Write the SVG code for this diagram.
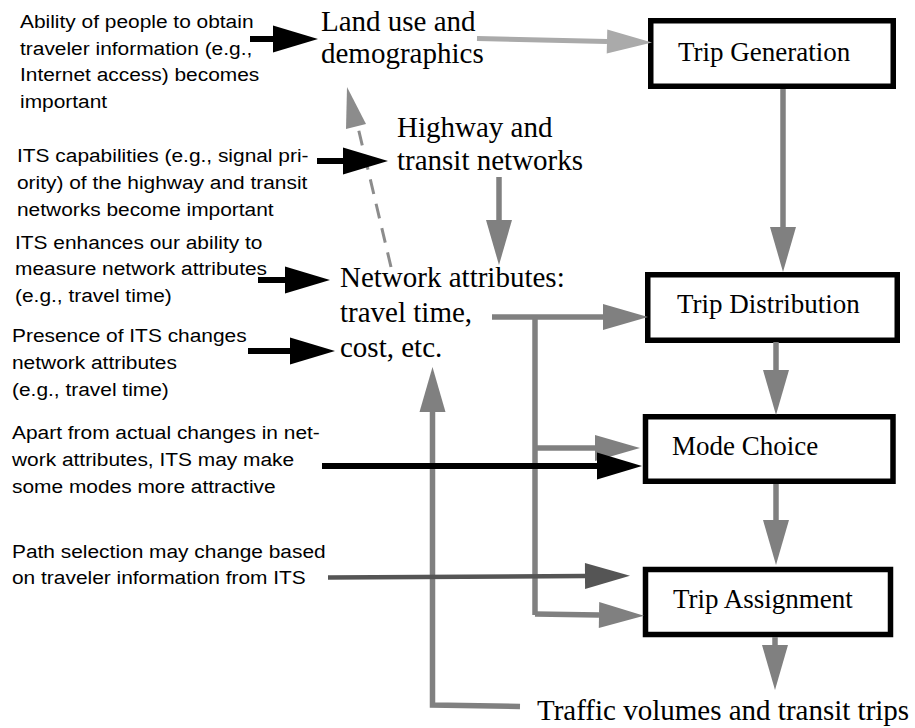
<svg xmlns="http://www.w3.org/2000/svg" width="915" height="728" viewBox="0 0 915 728">
  <defs>
    <style>
      .note { font-family: "Liberation Sans", Arial, sans-serif; font-size: 19px; fill: #000; }
      .label { font-family: "Liberation Serif", "Times New Roman", serif; font-size: 29px; fill: #000; }
      .step-text { font-family: "Liberation Serif", "Times New Roman", serif; font-size: 27px; fill: #000; }
      .step { fill: #fff; stroke: #000; stroke-width: 5.5; }
      .flow { fill: none; stroke: #808080; stroke-width: 5.5; marker-end: url(#headGray); }
      .flow-plain { fill: none; stroke: #808080; stroke-width: 5.5; }
      .land { fill: none; stroke: #aaaaaa; stroke-width: 5; marker-end: url(#headLight); }
      .its { fill: none; stroke: #000; stroke-width: 6; marker-end: url(#headBlack); }
      .its-path { fill: none; stroke: #555; stroke-width: 4.5; marker-end: url(#headDark); }
      .feedback { fill: none; stroke: #8c8c8c; stroke-width: 3; stroke-dasharray: 15 10; }
    </style>
    <marker id="headGray" markerUnits="userSpaceOnUse" markerWidth="46" markerHeight="28" refX="0" refY="13" orient="auto" overflow="visible">
      <path d="M0,0 L45,13 L0,26 z" fill="#808080"/>
    </marker>
    <marker id="headLight" markerUnits="userSpaceOnUse" markerWidth="46" markerHeight="26" refX="0" refY="12" orient="auto" overflow="visible">
      <path d="M0,0 L45,12 L0,24 z" fill="#aaaaaa"/>
    </marker>
    <marker id="headBlack" markerUnits="userSpaceOnUse" markerWidth="46" markerHeight="28" refX="0" refY="13.5" orient="auto" overflow="visible">
      <path d="M0,0 L45,13.5 L0,27 z" fill="#000"/>
    </marker>
    <marker id="headDark" markerUnits="userSpaceOnUse" markerWidth="46" markerHeight="28" refX="0" refY="13" orient="auto" overflow="visible">
      <path d="M0,0 L45,13 L0,26 z" fill="#555"/>
    </marker>
  </defs>

  <rect width="915" height="728" fill="#fff"/>

  <!-- ITS notes on the left -->
  <g id="note-ability" transform="translate(20 0) scale(1.1 1)">
    <text class="note" x="0" y="28">Ability of people to obtain</text>
    <text class="note" x="0" y="55">traveler information (e.g.,</text>
    <text class="note" x="0" y="81.5">Internet access) becomes</text>
    <text class="note" x="0" y="108">important</text>
  </g>
  <g id="note-capabilities" transform="translate(17 0) scale(1.1 1)">
    <text class="note" x="0" y="162">ITS capabilities (e.g., signal pri-</text>
    <text class="note" x="0" y="189">ority) of the highway and transit</text>
    <text class="note" x="0" y="216">networks become important</text>
  </g>
  <g id="note-measure" transform="translate(15 0) scale(1.1 1)">
    <text class="note" x="0" y="249">ITS enhances our ability to</text>
    <text class="note" x="0" y="275.5">measure network attributes</text>
    <text class="note" x="0" y="302">(e.g., travel time)</text>
  </g>
  <g id="note-presence" transform="translate(12 0) scale(1.1 1)">
    <text class="note" x="0" y="342">Presence of ITS changes</text>
    <text class="note" x="0" y="369">network attributes</text>
    <text class="note" x="0" y="396">(e.g., travel time)</text>
  </g>
  <g id="note-modes" transform="translate(12 0) scale(1.1 1)">
    <text class="note" x="0" y="439">Apart from actual changes in net-</text>
    <text class="note" x="0" y="466">work attributes, ITS may make</text>
    <text class="note" x="0" y="493">some modes more attractive</text>
  </g>
  <g id="note-path" transform="translate(12 0) scale(1.1 1)">
    <text class="note" x="0" y="558">Path selection may change based</text>
    <text class="note" x="0" y="584">on traveler information from ITS</text>
  </g>

  <!-- inputs and outputs -->
  <g id="land-use">
    <text class="label" x="321" y="31">Land use and</text>
    <text class="label" x="321" y="63">demographics</text>
  </g>
  <g id="networks">
    <text class="label" x="397" y="137">Highway and</text>
    <text class="label" x="397" y="170">transit networks</text>
  </g>
  <g id="network-attributes">
    <text class="label" x="340" y="287">Network attributes:</text>
    <text class="label" x="340" y="322">travel time,</text>
    <text class="label" x="340" y="357">cost, etc.</text>
  </g>
  <g id="traffic-volumes">
    <text class="label" x="537" y="720">Traffic volumes and transit trips</text>
  </g>

  <!-- four-step model -->
  <g id="trip-generation">
    <rect class="step" x="650.75" y="20.75" width="242.5" height="65.5"/>
    <text class="step-text" x="678" y="61">Trip Generation</text>
  </g>
  <g id="trip-distribution">
    <rect class="step" x="647.75" y="274.75" width="249.5" height="65.5"/>
    <text class="step-text" x="677" y="313">Trip Distribution</text>
  </g>
  <g id="mode-choice">
    <rect class="step" x="645.5" y="416.75" width="247.5" height="64.5"/>
    <text class="step-text" x="672" y="455">Mode Choice</text>
  </g>
  <g id="trip-assignment">
    <rect class="step" x="645.5" y="569.5" width="245" height="65"/>
    <text class="step-text" x="673" y="608">Trip Assignment</text>
  </g>

  <!-- connectors -->
  <g id="connectors">
    <!-- model flow -->
    <path class="land" d="M477,38.5 L607,41.5"/>
    <path class="flow" d="M783,89 L783,227"/>
    <path class="flow" d="M499,177 L499,220"/>
    <path class="flow" d="M492,317 L603,317"/>
    <path class="flow-plain" d="M535,317 L535,615"/>
    <path class="flow" d="M535,448 L595,448"/>
    <path class="flow" d="M535,614 L599,615"/>
    <path class="flow" d="M776,342 L776,370"/>
    <path class="flow" d="M776,484 L776,520"/>
    <path class="flow" d="M775,637 L775,645"/>
    <!-- feedback of volumes to network attributes -->
    <path class="flow" d="M520,706.5 L432.5,705 L432.5,412"/>
    <!-- network attributes feed back to land use -->
    <path class="feedback" d="M391,267 L357,123"/>
    <path d="M347,87 L366,124 L346,129 z" fill="#8c8c8c"/>
    <!-- ITS effects -->
    <path class="its" d="M250,39 L273,39"/>
    <path class="its" d="M317,161 L343,161"/>
    <path class="its" d="M258,280 L285,280"/>
    <path class="its" d="M248,351 L290,351"/>
    <path class="its" d="M322,466 L597,466"/>
    <path class="its-path" d="M328,577.5 L585,576"/>
  </g>
</svg>
